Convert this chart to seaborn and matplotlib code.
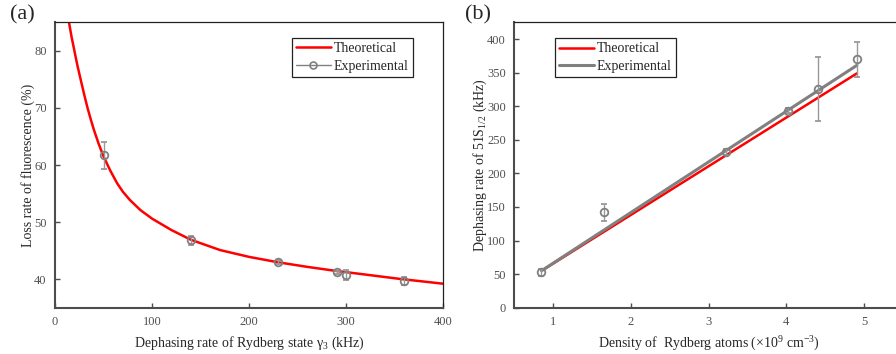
import numpy as np
import pandas as pd
import matplotlib
matplotlib.use("Agg")
import matplotlib.pyplot as plt
from matplotlib.lines import Line2D
import seaborn as sns

# ---------------- data ----------------
# panel (a)
theory_a_x = [14.4, 17, 20, 23, 26.4, 30, 33.5, 37, 40, 45, 50, 57, 64, 70, 77, 88, 100,
              120, 140, 170, 200, 230, 260, 287, 320, 355, 400]
theory_a_y = [85.0, 82.5, 80.0, 77.5, 75.0, 72.4, 70.0, 67.9, 66.2, 63.7, 61.5, 59.0, 56.8,
              55.3, 53.9, 52.1, 50.6, 48.6, 46.9, 45.1, 43.9, 42.95, 42.15, 41.5, 40.8, 40.05, 39.2]
exp_a_x = [50, 140, 230, 290, 300, 360]
exp_a_y = [61.7, 46.8, 43.0, 41.2, 40.7, 39.6]
exp_a_err = [2.4, 0.8, 0.3, 0.3, 0.9, 0.7]

# panel (b)
theory_b_x = [0.88, 4.91]
theory_b_y = [57, 349]
fit_b_x = [0.85, 4.91]
fit_b_y = [55, 361]
exp_b_x = [0.85, 1.65, 3.23, 4.02, 4.41, 4.91]
exp_b_y = [52.7, 142, 232, 293.5, 325.5, 370]
exp_b_err = [5, 13, 4, 4, 47.5, 26]

x_ticks_a = [0, 100, 200, 300, 400]
y_ticks_a = [40, 50, 60, 70, 80]
x_ticks_b = [1, 2, 3, 4, 5]
y_ticks_b = [0, 50, 100, 150, 200, 250, 300, 350, 400]

# ---------------- style ----------------
sns.set_style("ticks")
plt.rcParams["font.family"] = ["Liberation Serif", "DejaVu Serif"]
plt.rcParams["mathtext.fontset"] = "custom"
plt.rcParams["mathtext.rm"] = "Liberation Serif"
plt.rcParams["mathtext.it"] = "Liberation Serif:italic"
plt.rcParams["mathtext.bf"] = "Liberation Serif:bold"

RED = "#ff0000"
GRAY = "#808080"
ERRGRAY = "#999999"
SPINE = "#4d4d4d"
TICKC = "#505050"

fig = plt.figure(figsize=(8.96, 3.54), dpi=100)
W, H = 896, 354
axA = fig.add_axes([55 / W, (H - 307.7) / H, 388.3 / W, 285.4 / H])
axB = fig.add_axes([514.3 / W, (H - 307.7) / H, 388.5 / W, 285.4 / H])


def style_axes(ax):
    for s in ["left", "bottom"]:
        ax.spines[s].set_color(SPINE)
        ax.spines[s].set_linewidth(1.5)
    for s in ["top", "right"]:
        ax.spines[s].set_color("#222222")
        ax.spines[s].set_linewidth(0.9)
        ax.spines[s].set_visible(True)
    ax.tick_params(direction="in", length=3.5, width=1.0, color=SPINE,
                   labelsize=9, labelcolor=TICKC, top=False, right=False, pad=6)


def make_legend(ax, handles, x0px, y0px, left_px):
    leg = ax.legend(handles, ["Theoretical", "Experimental"], loc="upper left",
                    bbox_to_anchor=((x0px - left_px) / 388.4, (307.7 - y0px) / 285.4),
                    fontsize=10, frameon=True, fancybox=False, edgecolor="#222222",
                    framealpha=1, handlelength=2.5, handletextpad=0.2, borderpad=0.3,
                    borderaxespad=0, labelspacing=0.35)
    leg.get_frame().set_linewidth(0.9)
    return leg


# ---------------- panel (a) ----------------
dfA = pd.DataFrame({"x": theory_a_x, "y": theory_a_y})
sns.lineplot(data=dfA, x="x", y="y", ax=axA, color=RED, lw=1.8, sort=False)
axA.errorbar(exp_a_x, exp_a_y, yerr=exp_a_err, fmt="o", ms=5.5, mfc="none",
             mec=GRAY, mew=1.3, ecolor=ERRGRAY, elinewidth=1.0, capsize=2.2, capthick=1.0, zorder=3)
axA.set_xlim(0, 400)
axA.set_ylim(35, 85)
axA.set_xticks(x_ticks_a)
axA.set_yticks(y_ticks_a)
style_axes(axA)
axA.set_xlabel("Dephasing rate of Rydberg state γ$_3$ (kHz)", fontsize=10, labelpad=5)
axA.set_ylabel("Loss rate of fluorescence (%)", fontsize=10, labelpad=-1)
hA = [Line2D([], [], color=RED, lw=1.8),
      Line2D([], [], color=GRAY, lw=1.0, marker="o", ms=5, mfc="none", mew=1.2)]
make_legend(axA, hA, 292, 37.7, 55)

# ---------------- panel (b) ----------------
dfBt = pd.DataFrame({"x": theory_b_x, "y": theory_b_y})
dfBf = pd.DataFrame({"x": fit_b_x, "y": fit_b_y})
sns.lineplot(data=dfBt, x="x", y="y", ax=axB, color=RED, lw=1.8)
sns.lineplot(data=dfBf, x="x", y="y", ax=axB, color=GRAY, lw=2.2)
axB.errorbar(exp_b_x, exp_b_y, yerr=exp_b_err, fmt="o", ms=5.5, mfc="none",
             mec=GRAY, mew=1.3, ecolor=ERRGRAY, elinewidth=1.0, capsize=2.2, capthick=1.0, zorder=3)
axB.set_xlim(0.5, 5.5)
axB.set_ylim(0, 425)
axB.set_xticks(x_ticks_b)
axB.set_yticks(y_ticks_b)
style_axes(axB)
axB.set_xlabel("Density of  Rydberg atoms (×10$^9$ cm$^{-3}$)", fontsize=10, labelpad=5)
axB.set_ylabel("Dephasing rate of 51S$_{1/2}$ (kHz)", fontsize=10, labelpad=-1)
hB = [Line2D([], [], color=RED, lw=1.8), Line2D([], [], color=GRAY, lw=2.2)]
make_legend(axB, hB, 555, 38.3, 514.3)

fig.text(10 / W, 1 - 15 / H, "(a)", fontsize=16, va="center", ha="left")
fig.text(465 / W, 1 - 15 / H, "(b)", fontsize=16, va="center", ha="left")

fig.savefig("out.png", dpi=100)
